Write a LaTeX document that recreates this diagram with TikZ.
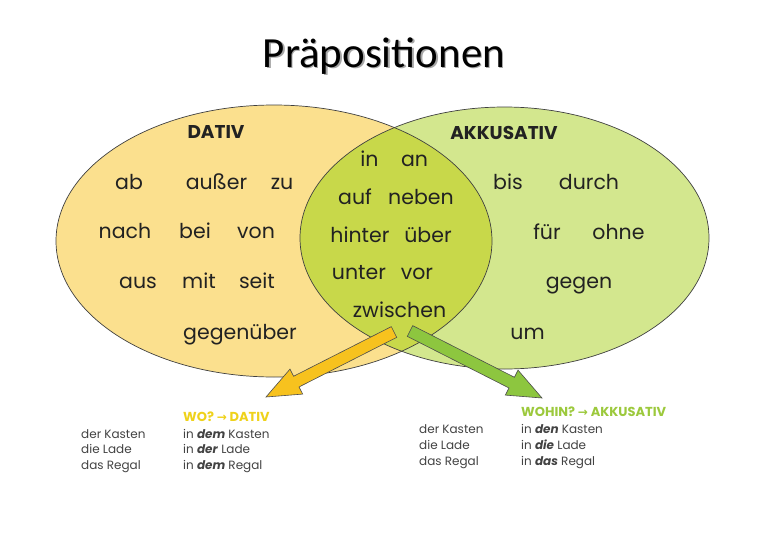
\documentclass[tikz,border=0pt]{standalone}
\usepackage{fontspec}
\setmainfont{Poppins}
\newfontfamily\titlefont{Carlito}
\newfontfamily\symfont{DejaVu Sans}
\usetikzlibrary{calc}
\definecolor{datfill}{HTML}{FBE08E}
\definecolor{akkfill}{HTML}{D3E78E}
\definecolor{interfill}{HTML}{C8D84A}
\definecolor{yarrow}{HTML}{F7C21E}
\definecolor{garrow}{HTML}{8DC63F}
\definecolor{yhead}{HTML}{EFD21A}
\definecolor{ghead}{HTML}{9CC93C}
\definecolor{txt}{HTML}{222222}
\tikzset{
  word/.style={font=\fontsize{20.5}{20.5}\selectfont, text=txt, inner sep=0pt, anchor=base},
  heading/.style={font=\bfseries\fontsize{18.5}{18.5}\selectfont, text=txt, inner sep=0pt, anchor=base},
  small/.style={font=\fontsize{12}{12}\selectfont, text=txt!85, inner sep=0pt, anchor=base west},
  smallhead/.style={font=\bfseries\fontsize{13}{13}\selectfont, inner sep=0pt, anchor=base west},
  outline/.style={draw=black!75, line width=0.7pt},
  arrowshape/.style={draw=black!70, line width=0.6pt},
}
\newcommand{\arr}{{\symfont\fontsize{12}{12}\selectfont →}}
\begin{document}
\begin{tikzpicture}[x=1pt,y=-1pt]
\useasboundingbox (0,0) rectangle (768,543);
\fill[white] (0,0) rectangle (768,543);
% title
\node[font=\titlefont\fontsize{43}{43}\selectfont, text=black!35, inner sep=0pt, anchor=base] (titleshadow) at (385.5,69) {Präpositionen};
\node[font=\titlefont\fontsize{43}{43}\selectfont, text=black, inner sep=0pt, anchor=base] (title) at (384,67.5) {Präpositionen};
% ellipses
\fill[datfill] (274,241) ellipse [x radius=218pt, y radius=136pt];
\fill[akkfill] (504.5,238) ellipse [x radius=204.5pt, y radius=131pt];
\begin{scope}
  \clip (274,241) ellipse [x radius=218pt, y radius=136pt];
  \fill[interfill] (504.5,238) ellipse [x radius=204.5pt, y radius=131pt];
\end{scope}
\draw[outline] (274,241) ellipse [x radius=218pt, y radius=136pt];
\draw[outline] (504.5,238) ellipse [x radius=204.5pt, y radius=131pt];
% Dativ words
\node[heading] (dativ) at (216,138) {DATIV};
\node[word] (ab) at (129,189) {ab};
\node[word] (ausser) at (216.5,189) {außer};
\node[word] (zu) at (282,189) {zu};
\node[word] (nach) at (125,238) {nach};
\node[word] (bei) at (195,238) {bei};
\node[word] (von) at (256,238) {von};
\node[word] (aus) at (138,288) {aus};
\node[word] (mit) at (199,288) {mit};
\node[word] (seit) at (257,288) {seit};
\node[word] (gegenueber) at (240,339) {gegenüber};
% intersection
\node[word] (in) at (369.5,166) {in};
\node[word] (an) at (414.5,166) {an};
\node[word] (auf) at (355,204) {auf};
\node[word] (neben) at (421,204) {neben};
\node[word] (hinter) at (360,242) {hinter};
\node[word] (ueber) at (428,242) {über};
\node[word] (unter) at (359,279) {unter};
\node[word] (vor) at (417,279) {vor};
\node[word] (zwischen) at (399.5,317) {zwischen};
% Akkusativ words
\node[heading] (akk) at (504,139) {AKKUSATIV};
\node[word] (bis) at (508,189) {bis};
\node[word] (durch) at (589,189) {durch};
\node[word] (fuer) at (547,239) {für};
\node[word] (ohne) at (618.5,239) {ohne};
\node[word] (gegen) at (579,288) {gegen};
\node[word] (um) at (527.5,339) {um};
% yellow arrow
\coordinate (yt) at (394,332);
\coordinate (yp) at (266,397);
\coordinate (yb) at ($(yp)!34pt!(yt)$);
\filldraw[arrowshape, fill=yarrow]
  ($(yt)!6pt!90:(yp)$) -- ($(yb)!6pt!-90:(yt)$) -- ($(yb)!14pt!-90:(yt)$) -- (yp)
  -- ($(yb)!14pt!90:(yt)$) -- ($(yb)!6pt!90:(yt)$) -- ($(yt)!6pt!-90:(yp)$) -- cycle;
% green arrow
\coordinate (gt) at (410,331);
\coordinate (gp) at (542,398);
\coordinate (gb) at ($(gp)!34pt!(gt)$);
\filldraw[arrowshape, fill=garrow]
  ($(gt)!6pt!90:(gp)$) -- ($(gb)!6pt!-90:(gt)$) -- ($(gb)!14pt!-90:(gt)$) -- (gp)
  -- ($(gb)!14pt!90:(gt)$) -- ($(gb)!6pt!90:(gt)$) -- ($(gt)!6pt!-90:(gp)$) -- cycle;
% bottom left
\node[smallhead, text=yhead] (wo) at (183,421) {WO? \arr{} DATIV};
\node[small] (l1) at (81,438) {der Kasten};
\node[small] (l2) at (81,453.5) {die Lade};
\node[small] (l3) at (81,469) {das Regal};
\node[small] (m1) at (183,438) {in \textbf{\textit{dem}} Kasten};
\node[small] (m2) at (183,453.5) {in \textbf{\textit{der}} Lade};
\node[small] (m3) at (183,469) {in \textbf{\textit{dem}} Regal};
% bottom right
\node[smallhead, text=ghead] (wohin) at (521,416) {WOHIN? \arr{} AKKUSATIV};
\node[small] (r1) at (419,433) {der Kasten};
\node[small] (r2) at (419,449) {die Lade};
\node[small] (r3) at (419,465) {das Regal};
\node[small] (s1) at (521,433) {in \textbf{\textit{den}} Kasten};
\node[small] (s2) at (521,449) {in \textbf{\textit{die}} Lade};
\node[small] (s3) at (521,465) {in \textbf{\textit{das}} Regal};
\end{tikzpicture}
\end{document}
